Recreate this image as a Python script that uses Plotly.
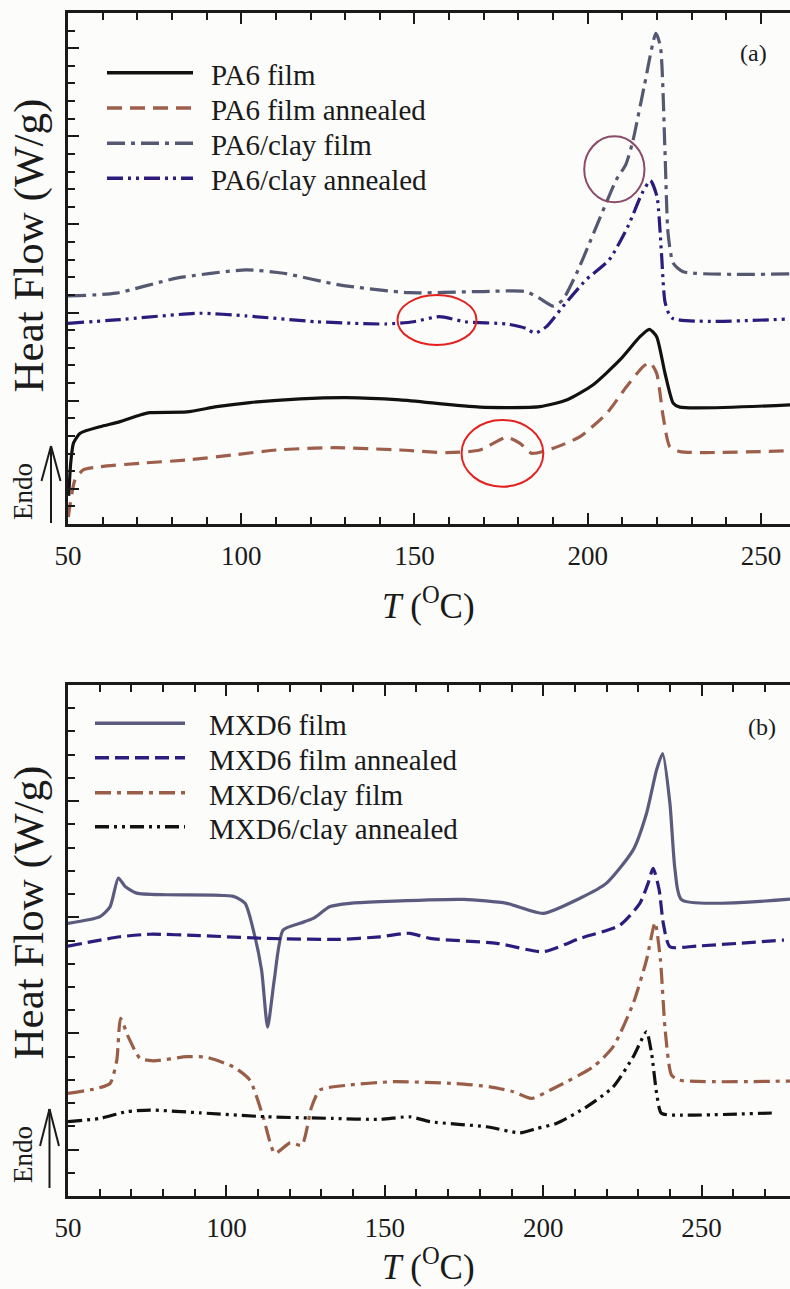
import plotly.graph_objects as go

# ---------------- data (top panel, PA6) ----------------
pa6_film_T = [50.2, 50.8, 51.6, 53.5, 59.2, 65.0, 70.8, 73.7, 84.3, 92.9, 102.5, 117.0, 130.4, 145.8,
              168.9, 186.2, 193.9, 201.5, 209.3, 215.1, 217.8, 219.9, 222.3, 224.7, 226.6, 258.4]
pa6_film_y = [-0.4, 1.5, 2.6, 3.15, 3.52, 3.81, 4.19, 4.32, 4.36, 4.66, 4.89, 5.10, 5.17, 5.04,
              4.63, 4.66, 5.04, 5.89, 7.31, 8.63, 9.05, 8.63, 6.57, 4.85, 4.63, 4.76]

pa6_ann_T = [50.1, 50.6, 52.0, 54.4, 59.2, 70.8, 84.3, 97.7, 110.2, 126.6, 145.8, 159.3, 168.9, 176.6,
             180.5, 183.8, 190.1, 197.8, 205.5, 211.2, 216.0, 218.0, 219.9, 221.8, 223.7, 226.6, 258.4]
pa6_ann_y = [-1.6, -0.9, 0.5, 1.07, 1.25, 1.45, 1.63, 1.92, 2.20, 2.33, 2.20, 2.05, 2.20, 2.92,
             2.58, 2.01, 2.30, 2.96, 4.28, 5.79, 6.93, 7.16, 6.56, 4.09, 2.39, 2.11, 2.16]

pa6clay_film_T = [50, 63.8, 81.3, 101.4, 112.2, 128.3, 148.5, 168.6, 182.1, 186.1, 190.1, 192.8, 196.8,
                  200.9, 204.9, 208.3, 211.0, 213.0, 216.3, 219.7, 221.0, 222.3, 223.2, 224.7, 227.6, 258.4]
pa6clay_film_y = [10.94, 11.10, 11.95, 12.42, 12.23, 11.57, 11.13, 11.19, 11.19, 10.81, 10.37, 10.72, 12.23,
                  14.12, 16.01, 17.55, 18.40, 19.70, 22.82, 25.85, 25.09, 19.23, 14.5, 12.8, 12.32, 12.19]

pa6clay_ann_T = [50, 63.8, 88.0, 101.4, 121.6, 141.7, 149.8, 157.2, 164.6, 176.7, 182.1, 184.8, 188.1,
                 192.8, 199.5, 206.2, 211.6, 215.7, 218.1, 220.0, 221.3, 222.4, 224.4, 258.4]
pa6clay_ann_y = [9.39, 9.58, 9.96, 9.81, 9.48, 9.35, 9.48, 9.77, 9.48, 9.35, 9.11, 8.83, 9.20,
                 10.33, 11.85, 12.99, 14.88, 16.77, 17.49, 16.58, 13.37, 10.53, 9.68, 9.64]

# ---------------- data (bottom panel, MXD6) ----------------
mxd_film_T = [50, 60.1, 63.3, 65.9, 68.0, 71.7, 81.2, 102.2, 105.9, 108.5, 111.1, 113.0, 115.1, 117.9,
              123.2, 127.4, 132.7, 139.0, 148.5, 174.8, 188.5, 200.0, 211.6, 220.0, 228.4, 232.6, 235.8,
              237.7, 240.0, 241.6, 243.7, 277.9]
mxd_film_y = [9.74, 10.03, 10.46, 11.69, 11.33, 11.04, 10.97, 10.90, 10.60, 9.45, 7.73, 5.27, 7.30, 9.45,
              9.74, 9.95, 10.46, 10.60, 10.67, 10.77, 10.60, 10.17, 10.82, 11.47, 12.90, 14.47, 16.35,
              17.05, 14.90, 12.05, 10.75, 10.78]

mxd_ann_T = [50, 66.4, 75.9, 91.6, 112.7, 135.7, 148.5, 157.9, 164.3, 185.3, 200.0, 211.6, 224.2, 230.5,
             233.1, 234.7, 236.6, 237.9, 240.0, 248.4, 276.0]
mxd_ann_y = [8.76, 9.16, 9.27, 9.21, 9.09, 9.05, 9.16, 9.31, 9.09, 8.88, 8.52, 9.09, 9.66, 10.60,
             11.46, 12.11, 11.18, 9.74, 8.73, 8.76, 9.02]

mxdclay_film_T = [50, 59.2, 63.3, 65.4, 66.6, 69.0, 72.7, 76.9, 87.5, 93.8, 102.2, 107.4, 111.6, 115.3,
                  120.1, 123.8, 126.9, 129.5, 139.0, 152.7, 172.4, 183.2, 190.5, 196.3, 203.2, 215.8,
                  222.1, 228.4, 232.6, 235.3, 237.0, 238.5, 240.5, 242.9, 277.9]
mxdclay_film_y = [2.42, 2.63, 2.85, 3.85, 5.65, 4.86, 3.93, 3.82, 4.00, 3.97, 3.56, 2.99, 1.41, -0.16,
                  0.29, 0.19, 1.84, 2.56, 2.78, 2.92, 2.84, 2.70, 2.49, 2.20, 2.63, 3.56,
                  4.43, 6.29, 8.16, 9.77, 8.16, 5.14, 3.20, 2.99, 2.95]

mxdclay_ann_T = [50, 60.1, 68.5, 75.9, 91.7, 112.7, 133.7, 148.5, 157.9, 164.3, 182.1, 192.7, 198.0,
                 204.3, 213.7, 222.1, 228.4, 232.6, 234.2, 235.8, 237.3, 243.2, 273.7]
mxdclay_ann_y = [1.20, 1.34, 1.63, 1.70, 1.58, 1.41, 1.34, 1.30, 1.41, 1.20, 0.98, 0.72, 0.91,
                 1.13, 1.84, 2.70, 3.99, 5.07, 4.14, 2.42, 1.56, 1.48, 1.58]

top_names = ["PA6 film", "PA6 film annealed", "PA6/clay film", "PA6/clay annealed"]
bot_names = ["MXD6 film", "MXD6 film annealed", "MXD6/clay film", "MXD6/clay annealed"]

# highlight ellipses on top panel: (center T, center y, half-width T, half-height y, color)
hl_T = [156.5, 175.4, 207.7]
hl_y = [9.58, 2.01, 18.13]
hl_rx = [11.4, 11.8, 8.7]
hl_ry = [1.42, 1.89, 1.87]
hl_col = ["#e3211f", "#e3211f", "#8a4a68"]

# ---------------- styles ----------------
W, H = 790, 1289
ML, MR, MT, MB = 68, 0, 13, 93
PW, PH = W - ML - MR, H - MT - MB
TOP_Y0, TOP_Y1 = 524, 13
BOT_Y0, BOT_Y1 = 1196, 685
FONT = "Liberation Serif, Times New Roman, serif"
INK = "#1a1a1a"
BG = "#fcfcfa"

top_styles = [
    dict(color="#111111", dash="solid"),
    dict(color="#9d5f4b", dash="15px,8px"),
    dict(color="#545870", dash="18px,6px,4px,6px"),
    dict(color="#2c1b7c", dash="16px,5px,3px,5px,3px,5px"),
]
bot_styles = [
    dict(color="#5a5b7e", dash="solid"),
    dict(color="#2b1d7d", dash="14px,6px"),
    dict(color="#9a5e48", dash="16px,6px,4px,6px"),
    dict(color="#111111", dash="14px,5px,3px,5px,3px,5px"),
]


def ppx(px):
    return (px - ML) / PW


def ppy(py):
    return (H - MB - py) / PH


fig = go.Figure()

top_data = [(pa6_film_T, pa6_film_y), (pa6_ann_T, pa6_ann_y),
            (pa6clay_film_T, pa6clay_film_y), (pa6clay_ann_T, pa6clay_ann_y)]
bot_data = [(mxd_film_T, mxd_film_y), (mxd_ann_T, mxd_ann_y),
            (mxdclay_film_T, mxdclay_film_y), (mxdclay_ann_T, mxdclay_ann_y)]

for (tx, ty), st, nm in zip(top_data, top_styles, top_names):
    fig.add_trace(go.Scatter(x=tx, y=ty, mode="lines", name=nm, showlegend=False,
                             line=dict(color=st["color"], dash=st["dash"], width=3.2,
                                       shape="spline", smoothing=0.6),
                             xaxis="x", yaxis="y"))
for (tx, ty), st, nm in zip(bot_data, bot_styles, bot_names):
    fig.add_trace(go.Scatter(x=tx, y=ty, mode="lines", name=nm, showlegend=False,
                             line=dict(color=st["color"], dash=st["dash"], width=3.2,
                                       shape="spline", smoothing=0.6),
                             xaxis="x2", yaxis="y2"))

shapes = []
annotations = []

# highlight ellipses
for cx, cy, rx, ry, c in zip(hl_T, hl_y, hl_rx, hl_ry, hl_col):
    shapes.append(dict(type="circle", xref="x", yref="y", x0=cx - rx, x1=cx + rx,
                       y0=cy - ry, y1=cy + ry, line=dict(color=c, width=2)))


def text_ann(x, y, text, size, angle=0, xanchor="center", xref="paper", yref="paper"):
    annotations.append(dict(xref=xref, yref=yref, x=x, y=y, text=text, showarrow=False,
                            xanchor=xanchor, yanchor="middle", textangle=angle,
                            font=dict(family=FONT, size=size, color=INK)))


# custom legends
def add_legend(names, styles, xref, yref, x_l0, x_l1, x_txt, rows, y0px):
    for nm, st, ry in zip(names, styles, rows):
        fy = (y0px - ry) / 511.0
        shapes.append(dict(type="line", xref=xref, yref=yref,
                           x0=(x_l0 - ML) / PW, x1=(x_l1 - ML) / PW, y0=fy, y1=fy,
                           line=dict(color=st["color"], width=3.5, dash=st["dash"])))
        text_ann((x_txt - ML) / PW, (y0px - ry - 2) / 511.0, nm, 29,
                 xanchor="left", xref=xref, yref=yref)


add_legend(top_names, top_styles, "x domain", "y domain", 107, 193, 209,
           [72.7, 108.0, 143.3, 178.3], TOP_Y0)
add_legend(bot_names, bot_styles, "x2 domain", "y2 domain", 95, 185, 207,
           [723.3, 757.7, 792.7, 826.7], BOT_Y0)

# panel letters
text_ann(ppx(753), ppy(53), "(a)", 24)
text_ann(ppx(762), ppy(727), "(b)", 24)

# axis titles and Endo markers
for yc, xt_y, endo_y, arr in [(245.5, 603, 492, (51, 523, 446, 481)),
                              (912.5, 1264, 1155, (49.5, 1188, 1109, 1146))]:
    text_ann(ppx(28), ppy(yc), "Heat Flow (W/g)", 43, angle=-90)
    text_ann(ppx(428), ppy(xt_y), "<i>T</i> (<sup>O</sup>C)", 35)
    text_ann(ppx(23), ppy(endo_y), "Endo", 27, angle=-90)
    ax_, yb, yt, yw = arr
    for (xa, ya, xb, yb2) in [(ax_, yb, ax_, yt), (ax_, yt, ax_ - 9.5, yw), (ax_, yt, ax_ + 9.5, yw)]:
        shapes.append(dict(type="line", xref="paper", yref="paper",
                           x0=ppx(xa), y0=ppy(ya), x1=ppx(xb), y1=ppy(yb2),
                           line=dict(color=INK, width=2)))

top_dom = [(H - MB - TOP_Y0) / PH, (H - MB - TOP_Y1) / PH]
bot_dom = [(H - MB - BOT_Y0) / PH, (H - MB - BOT_Y1) / PH]

xcommon = dict(showgrid=False, zeroline=False, showline=True, linecolor=INK, linewidth=2.5,
               mirror="ticks", ticks="inside", ticklen=11, tickwidth=2, tickcolor=INK,
               tick0=50, dtick=50, tickfont=dict(family=FONT, size=27, color=INK),
               minor=dict(ticks="inside", dtick=10, ticklen=7, tickwidth=1.5, tickcolor=INK,
                          showgrid=False),
               ticklabelstandoff=6)
ycommon = dict(showgrid=False, zeroline=False, showticklabels=False, ticks="inside",
               ticklen=11, tickwidth=2, tickcolor=INK, tick0=0, dtick=5,
               minor=dict(ticks="inside", dtick=1, ticklen=7, tickwidth=1.5, tickcolor=INK,
                          showgrid=False))

fig.update_layout(
    width=W, height=H, autosize=False,
    margin=dict(l=ML, r=MR, t=MT, b=MB),
    paper_bgcolor=BG, plot_bgcolor=BG,
    showlegend=False,
    xaxis=dict(domain=[0, 1], anchor="y", range=[50, 258.4], **xcommon),
    yaxis=dict(domain=top_dom, anchor="x", range=[-2, 27], showline=True, linecolor=INK,
               linewidth=2.5, **ycommon),
    yaxis3=dict(overlaying="y", side="right", anchor="x", range=[-2, 27], showline=False,
                **ycommon),
    xaxis2=dict(domain=[0, 1], anchor="y2", range=[50, 277.9], **xcommon),
    yaxis2=dict(domain=bot_dom, anchor="x2", range=[-2, 20], showline=True, linecolor=INK,
                linewidth=2.5, **ycommon),
    yaxis4=dict(overlaying="y2", side="right", anchor="x2", range=[-2, 20], showline=False,
                **ycommon),
    shapes=shapes,
    annotations=annotations,
)

fig.write_html("out.html")
